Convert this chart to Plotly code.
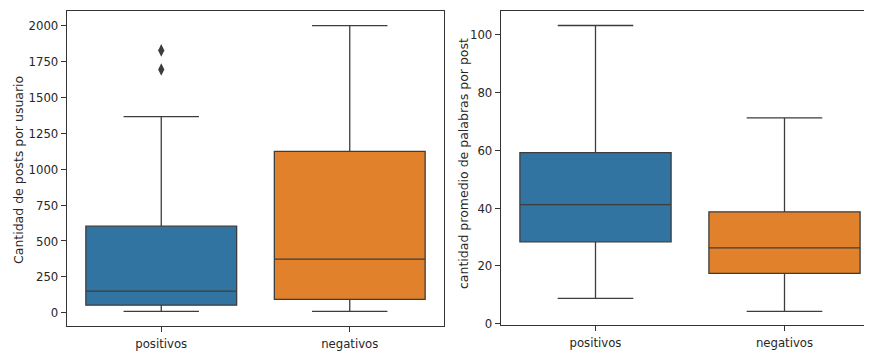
import plotly.graph_objects as go
from plotly.subplots import make_subplots

categories = ["positivos", "negativos"]
colors = ["#3274A1", "#E1812C"]

# Left panel: Cantidad de posts por usuario
posts_q1 = [53, 93]
posts_median = [151, 373]
posts_q3 = [603, 1124]
posts_low = [10, 10]
posts_high = [1366, 2000]
posts_outliers_cat = ["positivos", "positivos"]
posts_outliers_val = [1694, 1827]

# Right panel: cantidad promedio de palabras por post
words_q1 = [28.3, 17.4]
words_median = [41.2, 26.2]
words_q3 = [59.2, 38.7]
words_low = [8.7, 4.2]
words_high = [103.2, 71.2]

posts_ticks = [0, 250, 500, 750, 1000, 1250, 1500, 1750, 2000]
words_ticks = [0, 20, 40, 60, 80, 100]

# page body has an 8px margin: the figure starts at (8, 8) in the window
OFF = 8
W, H = 872 - OFF, 353 - OFF


def fx(px):
    return (px - OFF) / W


def fy(py):
    return 1 - (py - OFF) / H


edge = "#3d3d3d"
tickfont = dict(family="DejaVu Sans Condensed, Liberation Sans Narrow, DejaVu Sans", size=13, color="#262626")
titlefont = dict(family="DejaVu Sans", size=12.5, color="#262626")

fig = make_subplots(rows=1, cols=2)


def add_boxes(q1, med, q3, lo, hi, col):
    for i, c in enumerate(categories):
        fig.add_trace(go.Box(
            x=[c], q1=[q1[i]], median=[med[i]], q3=[q3[i]],
            lowerfence=[lo[i]], upperfence=[hi[i]],
            fillcolor=colors[i], line=dict(color=edge, width=1.3),
            width=0.8, whiskerwidth=0.5, boxpoints=False,
            showlegend=False, hoverinfo="skip"), row=1, col=col)


add_boxes(posts_q1, posts_median, posts_q3, posts_low, posts_high, 1)
add_boxes(words_q1, words_median, words_q3, words_low, words_high, 2)

fig.add_trace(go.Scatter(
    x=posts_outliers_cat, y=posts_outliers_val, mode="markers",
    marker=dict(symbol="diamond-tall", size=9, color=edge),
    showlegend=False), row=1, col=1)

ydom_l = [fy(326), fy(10.5)]
ydom_r = [fy(325), fy(10.5)]
axis_common = dict(showline=True, linecolor="#333333", linewidth=1.2,
                   ticks="outside", ticklen=5, tickcolor="#333333", tickwidth=1,
                   showgrid=False, zeroline=False, tickfont=tickfont, automargin=False)

# right panel is cut off by the image edge: its right spine is outside the picture
px_per_cat = 189.0
right_left, right_right = 501, 872
right_hi = -0.5 + (right_right - right_left) / px_per_cat

fig.update_layout(
    width=W, height=H,
    margin=dict(l=0, r=0, t=0, b=0),
    paper_bgcolor="white", plot_bgcolor="white",
    xaxis=dict(domain=[fx(67), fx(444)], type="category", range=[-0.5, 1.5], mirror=True,
               categoryorder="array", categoryarray=categories, **axis_common),
    yaxis=dict(domain=ydom_l, range=[-92, 2105], tickvals=posts_ticks, mirror=True, **axis_common),
    xaxis2=dict(domain=[fx(right_left), fx(right_right)], type="category", range=[-0.5, right_hi],
                mirror=True, categoryorder="array", categoryarray=categories, **axis_common),
    yaxis2=dict(domain=ydom_r, range=[-0.5, 108.4], tickvals=words_ticks, mirror=False, **axis_common),
    annotations=[
        dict(text="Cantidad de posts por usuario", textangle=-90, xref="paper", yref="paper",
             x=fx(19), y=fy(170), xanchor="center", yanchor="middle",
             showarrow=False, font=titlefont),
        dict(text="cantidad promedio de palabras por post", textangle=-90, xref="paper", yref="paper",
             x=fx(463), y=fy(164), xanchor="center", yanchor="middle",
             showarrow=False, font=titlefont),
    ],
)

fig.write_html("out.html")
